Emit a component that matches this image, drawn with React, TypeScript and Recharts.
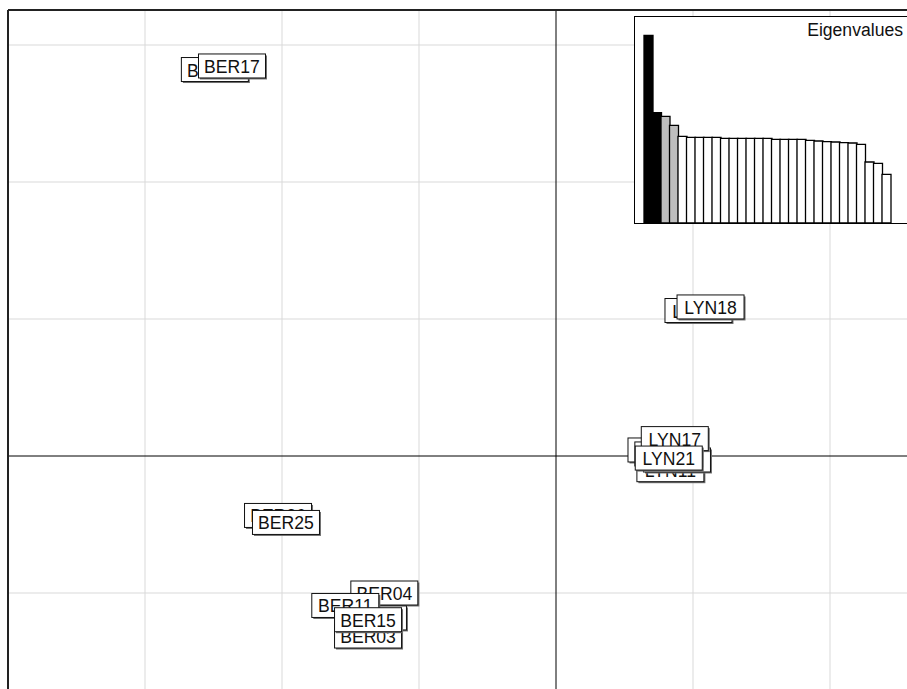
import { Bar, BarChart, Cell, ReferenceLine, Scatter, ScatterChart, XAxis, YAxis } from "recharts";

// sample labels, in drawing order (back to front)
const labels = [
  "BER16", "BER17", "LYN19", "LYN18", "BER26", "BER25",
  "BER04", "BER03", "BER12", "BER11", "BER15",
  "LYN11", "LYN20", "LYN16", "LYN14", "LYN17", "LYN21",
];
const pc1 = [
  -2.49, -2.365, 1.04, 1.128, -2.029, -1.971,
  -1.253, -1.372, -1.336, -1.538, -1.372,
  0.835, 0.883, 0.77, 0.82, 0.867, 0.823,
];
const pc2 = [
  2.821, 2.847, 1.062, 1.088, -0.434, -0.485,
  -1.0, -1.314, -1.182, -1.091, -1.195,
  -0.1, -0.029, 0.044, 0.015, 0.127, -0.015,
];

const eigenvalues = [
  18.77, 11.03, 10.67, 9.77, 8.67, 8.57, 8.57, 8.57, 8.57, 8.47,
  8.47, 8.47, 8.47, 8.47, 8.47, 8.37, 8.37, 8.37, 8.37, 8.27,
  8.2, 8.13, 8.1, 8.03, 8.0, 7.87, 6.1, 5.97, 4.87,
];
const eigColors = ["#000000", "#000000", "#bebebe", "#bebebe"];

const gridX = [-3, -2, -1, 1, 2];
const gridY = [-1, 1, 2, 3];
const xDomain: [number, number] = [-4, 3];
const yDomain: [number, number] = [-2, 3.2555];

const points = labels.map((label, i) => ({ label, x: pc1[i], y: pc2[i] }));
const eigData = eigenvalues.map((v, i) => ({ axis: i + 1, value: v }));

const FONT = "'Liberation Sans', Arial, sans-serif";

const LabelBox = (props: any) => {
  const { cx, cy, payload } = props;
  const w = 67;
  const h = 24;
  return (
    <g>
      <rect x={cx - w / 2 + 1.5} y={cy - h / 2 + 1.5} width={w} height={h} fill="#6f6f6f" />
      <rect x={cx - w / 2} y={cy - h / 2} width={w} height={h} fill="#fff" stroke="#111" strokeWidth={1} />
      <text x={cx} y={cy + 7} textAnchor="middle" fontSize={17.6} fontFamily={FONT} fill="#111">
        {payload.label}
      </text>
    </g>
  );
};

export default function App() {
  return (
    <div style={{ position: "fixed", left: 0, top: 0, width: 907, height: 689, overflow: "hidden", background: "#fff" }}>
      <div style={{ position: "absolute", left: 0, top: 0 }}>
        <ScatterChart width={972} height={735} margin={{ top: 10, right: 5, bottom: 5, left: 8 }}>
          <XAxis type="number" dataKey="x" domain={xDomain} hide allowDataOverflow />
          <YAxis type="number" dataKey="y" domain={yDomain} hide allowDataOverflow />
          {gridX.map((v) => (
            <ReferenceLine key={"gx" + v} x={v} stroke="#d9d9d9" strokeWidth={1} />
          ))}
          {gridY.map((v) => (
            <ReferenceLine key={"gy" + v} y={v} stroke="#d9d9d9" strokeWidth={1} />
          ))}
          <ReferenceLine x={0} stroke="#000" strokeWidth={1} />
          <ReferenceLine y={0} stroke="#000" strokeWidth={1} />
          <ReferenceLine x={xDomain[0]} stroke="#222" strokeWidth={2} />
          <ReferenceLine y={yDomain[1]} stroke="#222" strokeWidth={2} />
          <Scatter data={points} shape={LabelBox} isAnimationActive={false} />
        </ScatterChart>
      </div>
      <div
        style={{
          position: "absolute",
          left: 634,
          top: 16,
          width: 280,
          height: 206,
          border: "1px solid #000",
          background: "#fff",
        }}
      >
        <BarChart
          width={280}
          height={206}
          data={eigData}
          barCategoryGap={0}
          margin={{ top: 0, right: 24.5, bottom: 0, left: 9 }}
        >
          <XAxis dataKey="axis" hide />
          <YAxis domain={[0, 20.6]} hide />
          <Bar dataKey="value" stroke="#000" strokeWidth={1.3} isAnimationActive={false}>
            {eigData.map((d, i) => (
              <Cell key={d.axis} fill={eigColors[i] ?? "#ffffff"} />
            ))}
          </Bar>
        </BarChart>
      </div>
      <svg width={907} height={689} style={{ position: "absolute", left: 0, top: 0, pointerEvents: "none" }}>
        <text x={903} y={36} textAnchor="end" fontSize={17.6} fontFamily={FONT} fill="#111">
          Eigenvalues
        </text>
      </svg>
    </div>
  );
}
